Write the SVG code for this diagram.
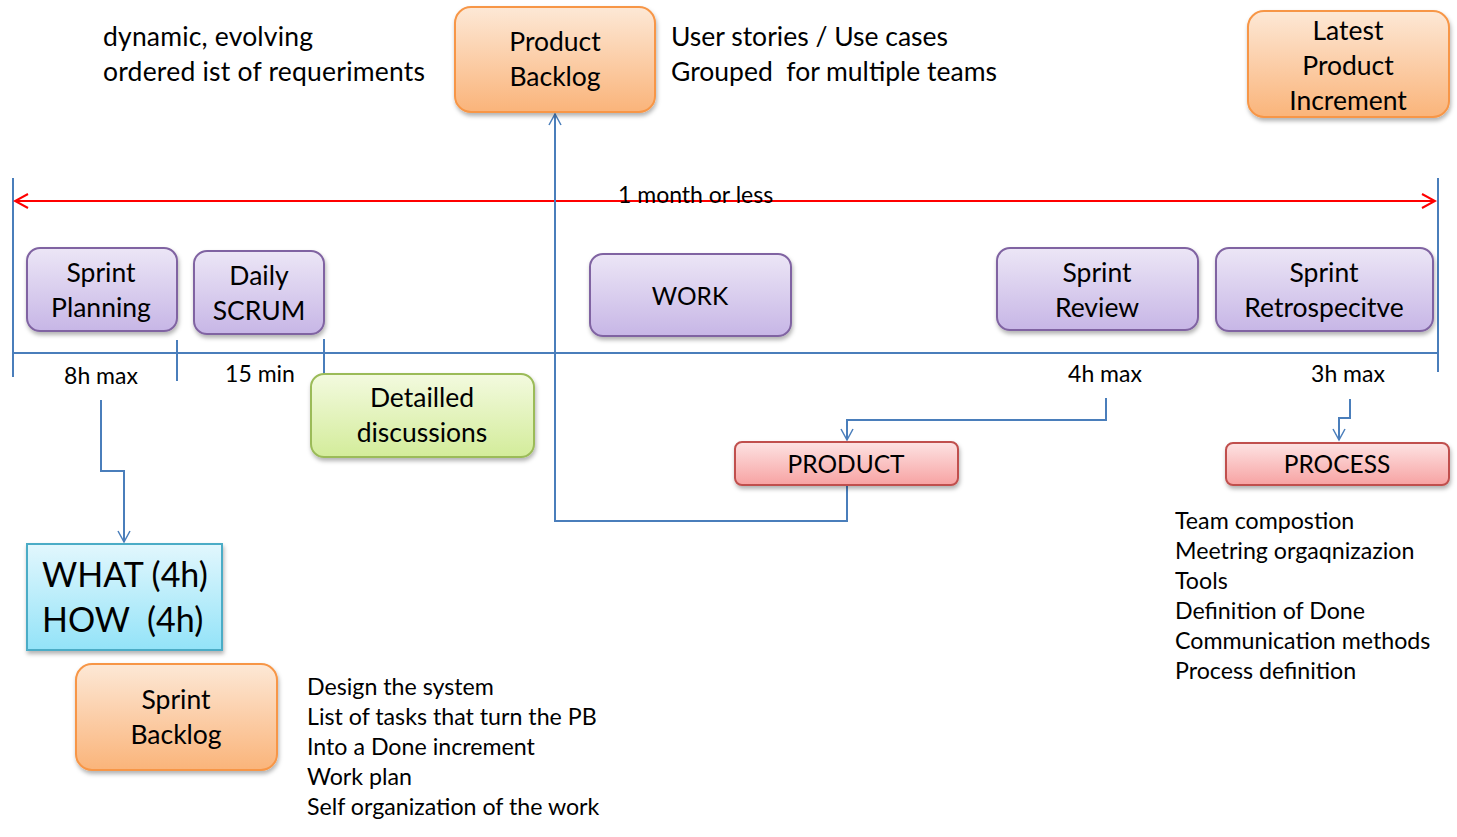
<svg xmlns="http://www.w3.org/2000/svg" width="1457" height="837" viewBox="0 0 1457 837">
<defs>
<linearGradient id="gOrange" x1="0" y1="0" x2="0" y2="1"><stop offset="0" stop-color="#fde8d6"/><stop offset="1" stop-color="#fab47a"/></linearGradient>
<linearGradient id="gPurple" x1="0" y1="0" x2="0" y2="1"><stop offset="0" stop-color="#ece6f6"/><stop offset="1" stop-color="#c7b6e6"/></linearGradient>
<linearGradient id="gRed" x1="0" y1="0" x2="0" y2="1"><stop offset="0" stop-color="#fde3e3"/><stop offset="1" stop-color="#f7a2a2"/></linearGradient>
<linearGradient id="gGreen" x1="0" y1="0" x2="0" y2="1"><stop offset="0" stop-color="#f3fadf"/><stop offset="1" stop-color="#d3ec9a"/></linearGradient>
<linearGradient id="gCyan" x1="0" y1="0" x2="0" y2="1"><stop offset="0" stop-color="#e2f7fd"/><stop offset="1" stop-color="#93e3f8"/></linearGradient>
<filter id="sh" x="-10%" y="-10%" width="125%" height="135%"><feDropShadow dx="1" dy="3" stdDeviation="2" flood-color="#000" flood-opacity="0.3"/></filter>
<marker id="aBlue" markerWidth="14" markerHeight="14" refX="12" refY="7" orient="auto" markerUnits="userSpaceOnUse"><path d="M1,1 L12,7 L1,13" fill="none" stroke="#4a7ebb" stroke-width="1.5"/></marker>
<marker id="aRedE" markerWidth="16" markerHeight="16" refX="14" refY="8" orient="auto" markerUnits="userSpaceOnUse"><path d="M1,1 L14,8 L1,15" fill="none" stroke="#ff0000" stroke-width="2"/></marker>
<marker id="aRedS" markerWidth="16" markerHeight="16" refX="2" refY="8" orient="auto" markerUnits="userSpaceOnUse"><path d="M15,1 L2,8 L15,15" fill="none" stroke="#ff0000" stroke-width="2"/></marker>
</defs>
<style>
text{font-family:Lato,"Open Sans","Liberation Sans",sans-serif;fill:#000}
.t24{font-size:26.5px}
.cap{font-size:24.5px}
.t21{font-size:23.2px}
.t20{font-size:23px}
.c{text-anchor:middle}
.or{fill:url(#gOrange);stroke:#f79646;stroke-width:2}
.pu{fill:url(#gPurple);stroke:#8064a2;stroke-width:2}
.re{fill:url(#gRed);stroke:#c0504d;stroke-width:2}
.gr{fill:url(#gGreen);stroke:#9bbb59;stroke-width:2}
.cy{fill:url(#gCyan);stroke:#4bacc6;stroke-width:2}
.ln{fill:none;stroke:#4a7ebb;stroke-width:2}
</style>
<rect width="1457" height="837" fill="#fff"/>

<g id="texts">
<text class="t24" x="103" y="46" textLength="210">dynamic, evolving</text>
<text class="t24" x="103" y="81" textLength="322">ordered ist of requeriments</text>
<text class="t24" x="671" y="46">User stories / Use cases</text>
<text class="t24" x="671" y="81" xml:space="preserve">Grouped  for multiple teams</text>
<text class="t21" x="307" y="695">Design the system</text>
<text class="t21" x="307" y="725">List of tasks that turn the PB</text>
<text class="t21" x="307" y="755">Into a Done increment</text>
<text class="t21" x="307" y="785">Work plan</text>
<text class="t21" x="307" y="815">Self organization of the work</text>
<text class="t21" x="1175" y="529">Team compostion</text>
<text class="t21" x="1175" y="559">Meetring orgaqnizazion</text>
<text class="t21" x="1175" y="589">Tools</text>
<text class="t21" x="1175" y="619">Definition of Done</text>
<text class="t21" x="1175" y="649">Communication methods</text>
<text class="t21" x="1175" y="679">Process definition</text>
<text class="t20 c" x="101" y="384">8h max</text>
<text class="t20 c" x="260" y="382">15 min</text>
<text class="t20 c" x="1105" y="382">4h max</text>
<text class="t20 c" x="1348" y="382">3h max</text>
</g>

<g id="connectors">
<line x1="13" y1="178" x2="13" y2="377" class="ln"/>
<line x1="1438" y1="178" x2="1438" y2="372" class="ln"/>
<line x1="13" y1="353" x2="1438" y2="353" class="ln"/>
<line x1="177" y1="340" x2="177" y2="381" class="ln"/>
<line x1="324" y1="339" x2="324" y2="381" class="ln"/>
<line x1="15" y1="201" x2="1435" y2="201" stroke="#ff0000" stroke-width="2" marker-start="url(#aRedS)" marker-end="url(#aRedE)"/>
<path d="M847,486 V521 H555 V114" class="ln" marker-end="url(#aBlue)"/>
<path d="M1106,398 V420 H847 V440" class="ln" marker-end="url(#aBlue)"/>
<path d="M1350,399 V418 H1339 V440" class="ln" marker-end="url(#aBlue)"/>
<path d="M101,400 V471 H124 V542" class="ln" marker-end="url(#aBlue)"/>
</g>
<text class="t20" x="618" y="203">1 month or less</text>

<g id="product-backlog"><rect x="455" y="7" width="200" height="105" rx="16" class="or" filter="url(#sh)"/><text class="t24 c" x="555" y="51">Product</text><text class="t24 c" x="555" y="86">Backlog</text></g>
<g id="latest-increment"><rect x="1248" y="11" width="201" height="106" rx="16" class="or" filter="url(#sh)"/><text class="t24 c" x="1348" y="40">Latest</text><text class="t24 c" x="1348" y="75">Product</text><text class="t24 c" x="1348" y="110">Increment</text></g>
<g id="sprint-planning"><rect x="27" y="248" width="150" height="83" rx="13" class="pu" filter="url(#sh)"/><text class="t24 c" x="101" y="282">Sprint</text><text class="t24 c" x="101" y="317">Planning</text></g>
<g id="daily-scrum"><rect x="194" y="251" width="130" height="83" rx="13" class="pu" filter="url(#sh)"/><text class="t24 c" x="259" y="285">Daily</text><text class="t24 c" x="259" y="320">SCRUM</text></g>
<g id="work"><rect x="590" y="254" width="201" height="82" rx="13" class="pu" filter="url(#sh)"/><text class="cap c" x="690" y="305">WORK</text></g>
<g id="sprint-review"><rect x="997" y="248" width="201" height="82" rx="13" class="pu" filter="url(#sh)"/><text class="t24 c" x="1097" y="282">Sprint</text><text class="t24 c" x="1097" y="317">Review</text></g>
<g id="sprint-retro"><rect x="1216" y="248" width="217" height="83" rx="13" class="pu" filter="url(#sh)"/><text class="t24 c" x="1324" y="282">Sprint</text><text class="t24 c" x="1324" y="317">Retrospecitve</text></g>
<g id="detailled"><rect x="311" y="374" width="223" height="83" rx="13" class="gr" filter="url(#sh)"/><text class="t24 c" x="422" y="407">Detailled</text><text class="t24 c" x="422" y="442">discussions</text></g>
<g id="product"><rect x="735" y="442" width="223" height="43" rx="7" class="re" filter="url(#sh)"/><text class="cap c" x="846" y="473">PRODUCT</text></g>
<g id="process"><rect x="1226" y="443" width="223" height="42" rx="7" class="re" filter="url(#sh)"/><text class="cap c" x="1337" y="473">PROCESS</text></g>
<g id="what-how"><rect x="27" y="544" width="195" height="106" class="cy" filter="url(#sh)"/><text x="42" y="587" font-size="34" xml:space="preserve">WHAT (4h)</text><text x="42" y="632" font-size="34" xml:space="preserve">HOW  (4h)</text></g>
<g id="sprint-backlog"><rect x="76" y="664" width="201" height="106" rx="16" class="or" filter="url(#sh)"/><text class="t24 c" x="176" y="709">Sprint</text><text class="t24 c" x="176" y="744">Backlog</text></g>
</svg>
